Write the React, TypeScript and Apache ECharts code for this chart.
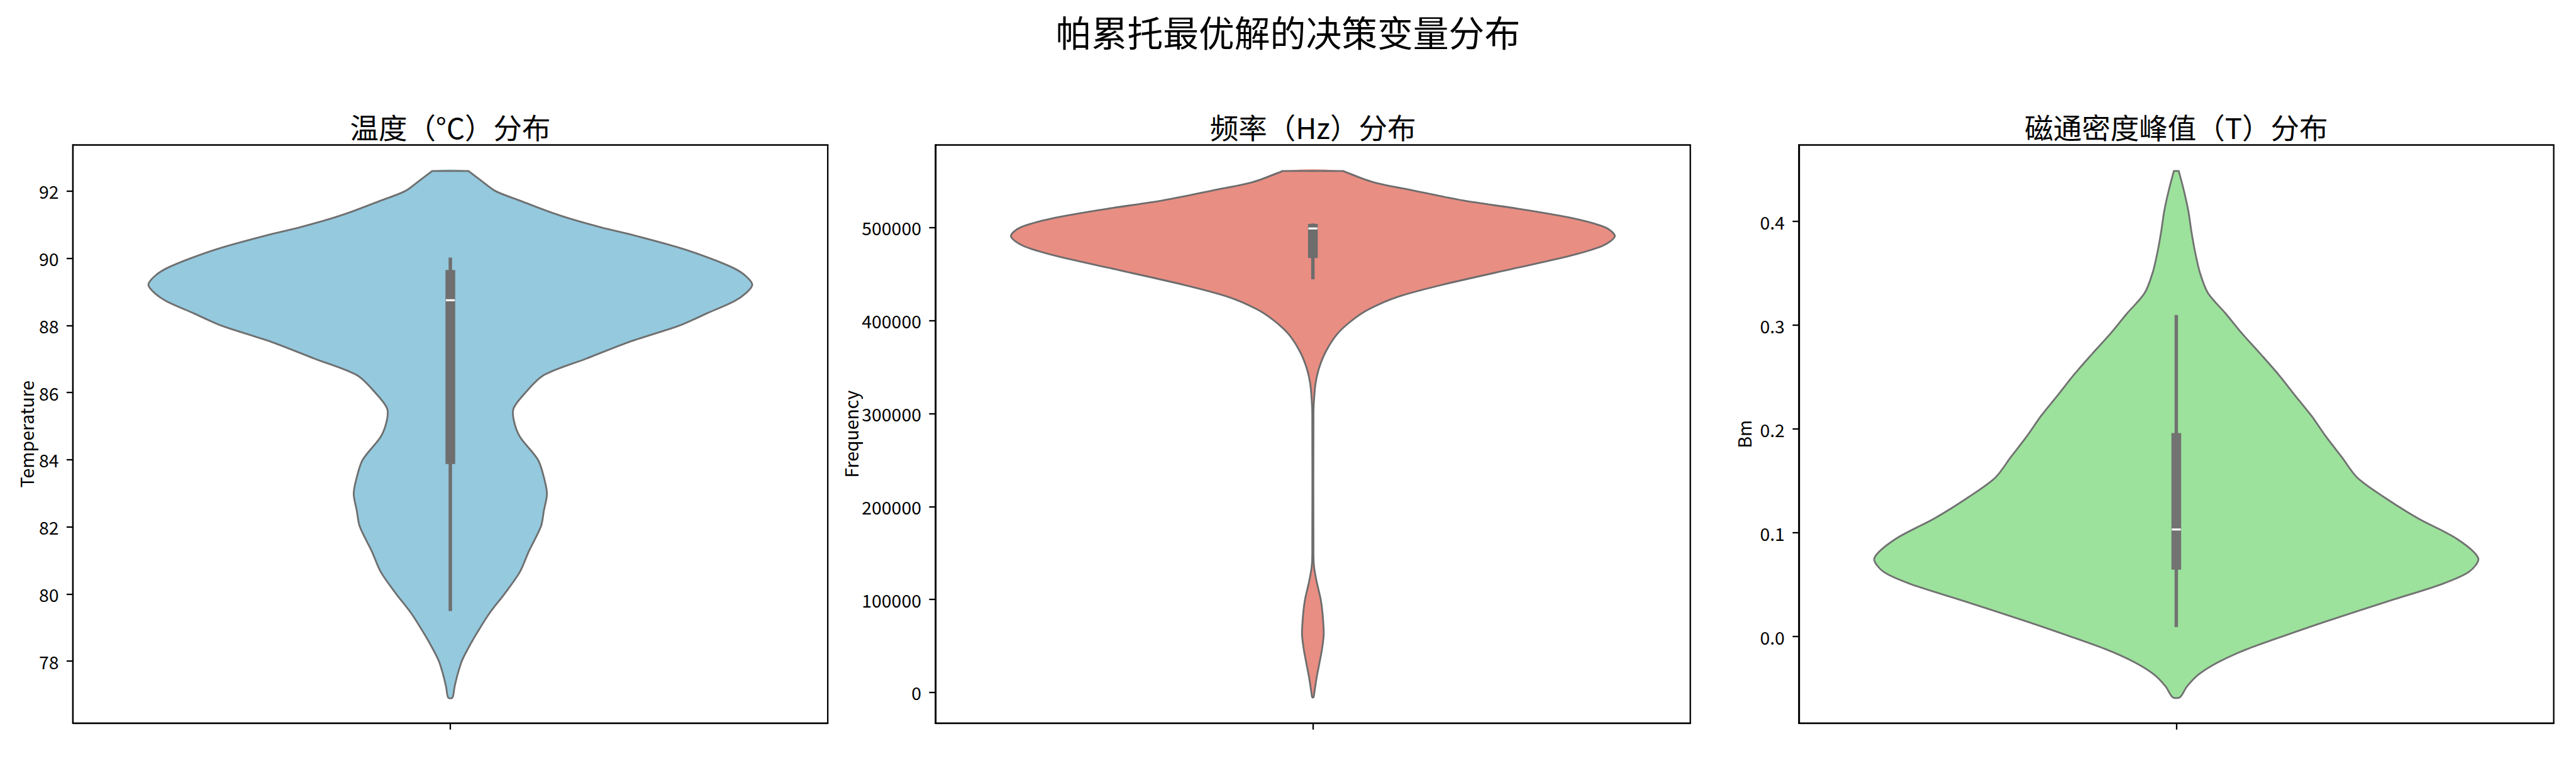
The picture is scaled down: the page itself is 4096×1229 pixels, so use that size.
import React, { useEffect, useRef } from "react";
import * as echarts from "echarts";

// ---------- texts ----------
const SUPTITLE = "帕累托最优解的决策变量分布";
const PANEL_TITLES = ["温度（°C）分布", "频率（Hz）分布", "磁通密度峰值（T）分布"];
const Y_NAMES = ["Temperature", "Frequency", "Bm"];
const CATEGORIES = [""];

// ---------- violin outlines (value, relative half-width 0..1) ----------
const TEMP_Y = [92.6, 92.33, 92.0, 91.72, 91.41, 91.17, 90.92, 90.68, 90.31, 90.0, 89.7, 89.46, 89.21, 88.97, 88.72, 88.36, 88.0, 87.5, 87.01, 86.52, 86.01, 85.54, 85.18, 84.69, 84.0, 83.47, 82.98, 82.49, 82.01, 81.27, 80.65, 80.01, 79.43, 78.82, 78.33, 78.0, 77.6, 77.23, 76.91];
const TEMP_W = [0.06, 0.1, 0.15, 0.23, 0.32, 0.4, 0.5, 0.61, 0.76, 0.86, 0.94, 0.98, 1.0, 0.98, 0.94, 0.85, 0.76, 0.59, 0.45, 0.31, 0.25, 0.21, 0.21, 0.23, 0.29, 0.31, 0.32, 0.31, 0.3, 0.26, 0.23, 0.18, 0.13, 0.087, 0.056, 0.038, 0.024, 0.014, 0.007];

const FREQ_Y = [560900, 548900, 540100, 529100, 520300, 510100, 500000, 490700, 480500, 469500, 456300, 438600, 425400, 412100, 400300, 385700, 368000, 350400, 332700, 315100, 300100, 147400, 135000, 120000, 100000, 85000, 63000, 46000, 32000, 15000, 0, -5300];
const FREQ_W = [0.1, 0.2, 0.33, 0.5, 0.68, 0.86, 0.97, 1.0, 0.96, 0.85, 0.67, 0.43, 0.28, 0.185, 0.13, 0.081, 0.045, 0.022, 0.009, 0.004, 0.002, 0.002, 0.004, 0.012, 0.026, 0.032, 0.036, 0.03, 0.022, 0.012, 0.005, 0.002];

const BM_Y = [0.4487, 0.43, 0.41, 0.3905, 0.371, 0.351, 0.331, 0.3115, 0.292, 0.272, 0.252, 0.2325, 0.213, 0.193, 0.173, 0.153, 0.134, 0.114, 0.094, 0.0755, 0.0625, 0.0506, 0.0348, 0.015, 0.0, -0.0126, -0.0245, -0.0363, -0.0482, -0.0585];
const BM_W = [0.008, 0.025, 0.04, 0.05, 0.062, 0.078, 0.105, 0.163, 0.218, 0.28, 0.34, 0.393, 0.447, 0.495, 0.548, 0.6, 0.69, 0.8, 0.93, 1.0, 0.97, 0.88, 0.71, 0.5, 0.35, 0.23, 0.14, 0.075, 0.035, 0.012];

// ---------- inner box stats: [whisker low, Q1, median, Q3, whisker high] ----------
const TEMP_BOX = [79.49, 83.87, 88.75, 89.65, 90.02];
const FREQ_BOX = [444400, 467300, 499100, 503950, 504500];
const BM_BOX = [0.0091, 0.0645, 0.1032, 0.1961, 0.3099];

// ---------- axis ranges & ticks ----------
const TEMP_RANGE = [76.15, 93.375];
const FREQ_RANGE = [-33100, 588900];
const BM_RANGE = [-0.0835, 0.4738];
const TEMP_TICKS = [78, 80, 82, 84, 86, 88, 90, 92];
const FREQ_TICKS = [0, 100000, 200000, 300000, 400000, 500000];
const BM_TICKS = [0, 0.1, 0.2, 0.3, 0.4];

const FILLS = ["#94c9de", "#e98e83", "#9ce29c"];
const LINES = ["#6f6f6f", "#6d6d6d", "#727272"];

const FONT = "'Noto Sans CJK SC', 'Noto Sans', sans-serif";
const W = 4096;
const H = 1229;
const GRID_LEFTS = [115.9, 1487.4, 2860.3];
const GRID_TOP = 230.5;
const GRID_W = 1200.3;
const GRID_H = 919.3;
const NAME_GAPS = [60.5, 115.7, 74.1];
const TICK_FONT = 28.4;
const SPINE = 2.3;
const VIOLIN_HALF = 0.4;

function violinSeries(i: number, ys: number[], ws: number[], box: number[], fill: string, line: string) {
  return {
    type: "custom",
    xAxisIndex: i,
    yAxisIndex: i,
    silent: true,
    clip: false,
    data: [[0, box[2]]],
    renderItem: (params: any, api: any) => {
      const band = api.size([1, 0])[0];
      const half = VIOLIN_HALF * band;
      const cx = api.coord([0, box[2]])[0];
      const yOf = (v: number) => api.coord([0, v])[1];
      const right = ys.map((y, k) => [cx + ws[k] * half, yOf(y)]);
      const left = ys.map((y, k) => [cx - ws[k] * half, yOf(y)]).reverse();
      const outline = right.concat(left);
      const capR = right[0];
      const capL = left[left.length - 1];
      return {
        type: "group",
        children: [
          {
            type: "polygon",
            shape: { points: outline, smooth: 0.3 },
            style: { fill, lineWidth: 0 },
          },
          {
            type: "polyline",
            shape: { points: outline, smooth: 0.3 },
            style: { fill: "none", stroke: line, lineWidth: 2.84, lineJoin: "round" },
          },
          {
            type: "line",
            shape: { x1: capL[0], y1: capL[1], x2: capR[0], y2: capR[1] },
            style: { stroke: line, lineWidth: 2.84, lineCap: "round" },
          },
          {
            type: "line",
            shape: { x1: cx, y1: yOf(box[0]), x2: cx, y2: yOf(box[4]) },
            style: { stroke: line, lineWidth: 5.5 },
          },
          {
            type: "rect",
            shape: { x: cx - 7.75, y: yOf(box[3]), width: 15.5, height: yOf(box[1]) - yOf(box[3]) },
            style: { fill: line },
          },
          {
            type: "rect",
            shape: { x: cx - 7.2, y: yOf(box[2]) - 1.6, width: 14.4, height: 3.2 },
            style: { fill: "#ffffff" },
          },
        ],
      };
    },
  };
}

export default function App() {
  const ref = useRef<HTMLDivElement>(null);

  useEffect(() => {
    if (!ref.current) return;
    const chart = echarts.init(ref.current, null, { renderer: "svg", width: W, height: H });
    const ranges = [TEMP_RANGE, FREQ_RANGE, BM_RANGE];
    const ticks = [TEMP_TICKS, FREQ_TICKS, BM_TICKS];
    const formatters = [
      (v: number) => String(Math.round(v)),
      (v: number) => String(Math.round(v)),
      (v: number) => v.toFixed(1),
    ];
    const axisLineStyle = { color: "#000", width: SPINE };

    const option: any = {
      animation: false,
      backgroundColor: "#ffffff",
      grid: GRID_LEFTS.map((l) => ({
        left: l,
        top: GRID_TOP,
        width: GRID_W,
        height: GRID_H,
        show: true,
        borderColor: "#000",
        borderWidth: SPINE,
        backgroundColor: "transparent",
        containLabel: false,
        outerBoundsMode: "none",
      })),
      xAxis: GRID_LEFTS.map((_, i) => ({
        type: "category",
        gridIndex: i,
        data: CATEGORIES,
        boundaryGap: true,
        axisLine: { show: true, onZero: false, lineStyle: axisLineStyle },
        axisTick: { show: true, alignWithLabel: true, length: 10.2, lineStyle: axisLineStyle },
        axisLabel: { show: false },
        splitLine: { show: false },
      })),
      yAxis: GRID_LEFTS.map((_, i) => ({
        type: "value",
        gridIndex: i,
        min: ranges[i][0],
        max: ranges[i][1],
        name: Y_NAMES[i],
        nameLocation: "middle",
        nameRotate: 90,
        nameGap: NAME_GAPS[i],
        nameTextStyle: { fontSize: TICK_FONT, color: "#000", fontFamily: FONT },
        axisLine: { show: true, onZero: false, lineStyle: axisLineStyle },
        axisTick: { show: true, length: 10, lineStyle: axisLineStyle, customValues: ticks[i] },
        axisLabel: {
          customValues: ticks[i],
          formatter: formatters[i],
          fontSize: TICK_FONT,
          color: "#000",
          fontFamily: FONT,
          margin: 22.5,
        },
        splitLine: { show: false },
      })),
      series: [
        violinSeries(0, TEMP_Y, TEMP_W, TEMP_BOX, FILLS[0], LINES[0]),
        violinSeries(1, FREQ_Y, FREQ_W, FREQ_BOX, FILLS[1], LINES[1]),
        violinSeries(2, BM_Y, BM_W, BM_BOX, FILLS[2], LINES[2]),
      ],
      graphic: [
        {
          type: "text",
          x: W / 2,
          y: 49,
          style: {
            text: SUPTITLE,
            fontSize: 56.8,
            fontFamily: FONT,
            fill: "#000",
            textAlign: "center",
            textVerticalAlign: "middle",
            align: "center",
            verticalAlign: "middle",
          },
        },
        ...PANEL_TITLES.map((t, i) => ({
          type: "text",
          x: GRID_LEFTS[i] + GRID_W / 2,
          y: 201,
          style: {
            text: t,
            fontSize: 45.5,
            fontFamily: FONT,
            fill: "#000",
            textAlign: "center",
            textVerticalAlign: "middle",
            align: "center",
            verticalAlign: "middle",
          },
        })),
      ],
    };
    chart.setOption(option);
    return () => chart.dispose();
  }, []);

  return (
    <div
      ref={ref}
      style={{ position: "absolute", left: 0, top: 0, width: W, height: H, background: "#fff" }}
    />
  );
}
